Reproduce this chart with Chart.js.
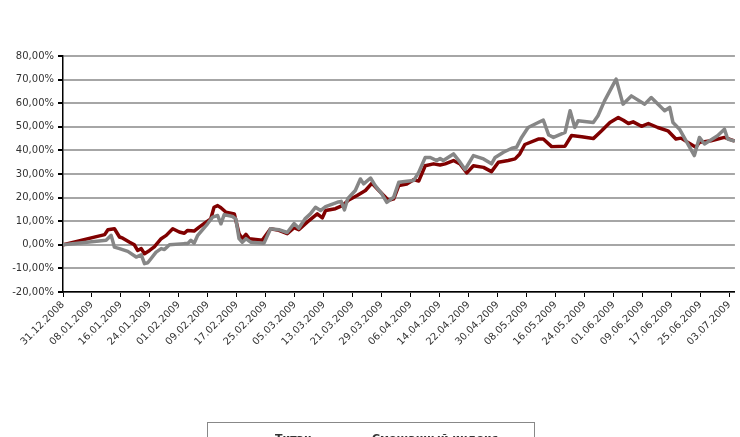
<!DOCTYPE html>
<html>
<head>
<meta charset="utf-8">
<script src="https://cdn.jsdelivr.net/npm/chart.js@4.4.0/dist/chart.umd.min.js"></script>
<style>
  html,body{margin:0;padding:0;background:#fff;overflow:hidden;}
  #wrap{position:relative;width:740px;height:437px;overflow:hidden;}
  #legend{position:absolute;left:207px;top:422px;width:328px;height:40px;border:1px solid #888;box-sizing:border-box;
    font:bold 11px "DejaVu Sans",Verdana,sans-serif;color:#333;}
  #legend span{position:absolute;top:9px;white-space:nowrap;}
</style>
</head>
<body>
<div id="wrap">
  <canvas id="c" width="740" height="437"></canvas>
  <div id="legend"><span style="left:67px">Титан</span><span style="left:164px">Смешанный индекс</span></div>
</div>
<script>
// x = days since 31.12.2008, y = return in %
const tickLabels=['31.12.2008','08.01.2009','16.01.2009','24.01.2009','01.02.2009','09.02.2009','17.02.2009','25.02.2009',
  '05.03.2009','13.03.2009','21.03.2009','29.03.2009','06.04.2009','14.04.2009','22.04.2009','30.04.2009',
  '08.05.2009','16.05.2009','24.05.2009','01.06.2009','09.06.2009','17.06.2009','25.06.2009','03.07.2009'];

const titanDays=[0,11.5,12.4,14.2,15.6,16.5,18.4,19.7,20.6,21.6,22.5,23.9,25.2,27.1,28.5,30.3,32.1,33.5,34.4,36.2,
  37.6,39.5,40.8,41.7,42.7,43.6,45.0,47.3,48.6,49.5,50.5,51.4,55.0,57.3,59.6,61.9,63.8,65.1,67.4,70.2,
  71.6,72.5,75.2,77.1,78.9,81.2,83.5,85.3,87.2,89.9,91.3,92.7,94.9,96.8,98.2,100.0,102.3,104.1,105.5,107.8,
  109.6,111.5,113.3,116.1,118.3,120.2,122.9,124.8,126.1,127.5,131.2,132.6,134.9,138.6,140.4,143.2,146.4,148.7,151.0,153.3,
  154.7,156.1,157.4,159.7,161.6,164.2,167.0,169.2,170.6,174.7,175.7,178.9,182.6,185.1];
const titanValues=[0,4.3,6.4,6.8,3.3,2.8,1.1,0,-2.4,-1.6,-3.8,-2.4,-0.9,2.6,4.0,6.8,5.4,4.9,6.1,5.8,
  7.5,9.6,11.0,15.9,16.6,15.7,13.8,13.1,4.7,2.6,4.4,2.6,1.9,6.8,6.1,4.7,7.3,6.4,9.6,13.1,
  11.4,14.5,15.3,16.6,19.0,20.9,23.0,26.1,23.0,18.8,19.5,25.1,25.8,27.6,27.0,33.5,34.3,33.8,34.3,35.7,
  34.3,30.5,33.5,32.8,31.0,35.0,35.7,36.4,38.5,42.5,44.8,44.8,41.6,41.8,46.3,45.8,45.0,48.3,51.8,53.9,
  52.8,51.4,52.1,50.2,51.4,49.7,48.3,44.8,45.2,41.3,43.4,44.1,45.5,44.1];

const indexDays=[0,11.9,13.3,14.2,15.6,17.9,20.2,21.6,22.5,23.4,25.7,27.1,28.0,29.4,33.5,34.4,35.3,36.2,37.2,39.9,
  41.3,42.7,43.6,44.5,46.8,47.7,48.6,49.5,50.5,51.8,55.5,57.3,59.6,61.9,63.8,65.1,66.8,68.3,69.7,71.1,
  72.5,75.7,76.8,77.7,78.6,80.7,82.1,83.0,84.9,86.2,88.0,89.4,91.3,92.7,94.9,96.8,98.2,100.0,101.4,103.2,
  104.1,105.0,107.8,109.6,111.0,113.3,116.1,118.3,119.3,121.6,123.9,125.2,126.6,128.4,131.2,132.6,134.1,135.4,138.6,140.0,
  141.3,142.2,146.4,147.7,149.5,152.7,154.6,156.9,160.6,162.4,166.1,167.5,168.4,170.2,174.3,175.7,177.1,180.7,182.6,183.5,185.1];
const indexValues=[0,1.9,4.0,-1.0,-1.6,-2.8,-5.2,-4.2,-8.0,-7.6,-3.1,-1.6,-2.0,0,0.5,0.5,1.9,0.7,4.0,8.9,
  11.7,12.4,8.9,12.8,12.0,11.0,2.6,1.1,2.6,1.1,0.7,6.8,6.4,5.2,9.0,7.0,11.0,13.1,15.9,14.5,
  16.2,18.0,18.4,14.8,19.5,23.0,27.9,25.8,28.3,25.1,21.6,18.0,20.2,26.5,26.9,27.2,30.7,37.0,37.0,35.7,
  36.6,35.7,38.5,35.0,31.9,37.8,36.4,34.3,37.0,39.2,40.9,41.3,45.5,49.7,51.8,52.8,46.5,45.5,47.6,56.8,
  49.7,52.6,51.8,54.7,61.0,70.2,59.6,63.1,59.6,62.4,56.8,58.2,51.8,49.0,37.8,45.5,42.7,46.2,49.0,44.8,44.1];

const toPts=(xs,ys)=>xs.map((x,i)=>({x:x,y:ys[i]}));
const font={family:'"DejaVu Sans", Verdana, sans-serif',size:10};

new Chart(document.getElementById('c'),{
  type:'line',
  data:{datasets:[
    {label:'Титан',data:toPts(titanDays,titanValues),borderColor:'#800000',borderWidth:3.5,order:1},
    {label:'Смешанный индекс',data:toPts(indexDays,indexValues),borderColor:'#868686',borderWidth:3.5,order:0}
  ]},
  options:{
    responsive:false,animation:false,
    layout:{padding:{top:56,right:3,left:0,bottom:0}},
    elements:{point:{radius:0},line:{tension:0,borderJoinStyle:'round',borderCapStyle:'round'}},
    plugins:{legend:{display:false},tooltip:{enabled:false}},
    scales:{
      x:{type:'linear',min:0,max:185.5,
        afterBuildTicks:s=>{s.ticks=tickLabels.map((_,i)=>({value:i*8}));},
        afterFit:s=>{s.height=145;},
        ticks:{autoSkip:false,maxRotation:45,minRotation:45,color:'#333',font:font,padding:2,
          callback:(v,i)=>tickLabels[i]},
        grid:{drawOnChartArea:false,drawTicks:true,tickLength:5,tickColor:'#000'},
        border:{color:'#000',width:1.5}},
      y:{min:-20,max:80,
        afterFit:s=>{s.width=63;},
        ticks:{stepSize:10,color:'#333',font:font,padding:4,
          callback:v=>v.toFixed(2).replace('.',',')+'%'},
        grid:{color:'#a6a6a6',lineWidth:2,tickLength:5,tickColor:'#000'},
        border:{color:'#000',width:1.5}}
    }
  }
});
</script>
</body>
</html>
